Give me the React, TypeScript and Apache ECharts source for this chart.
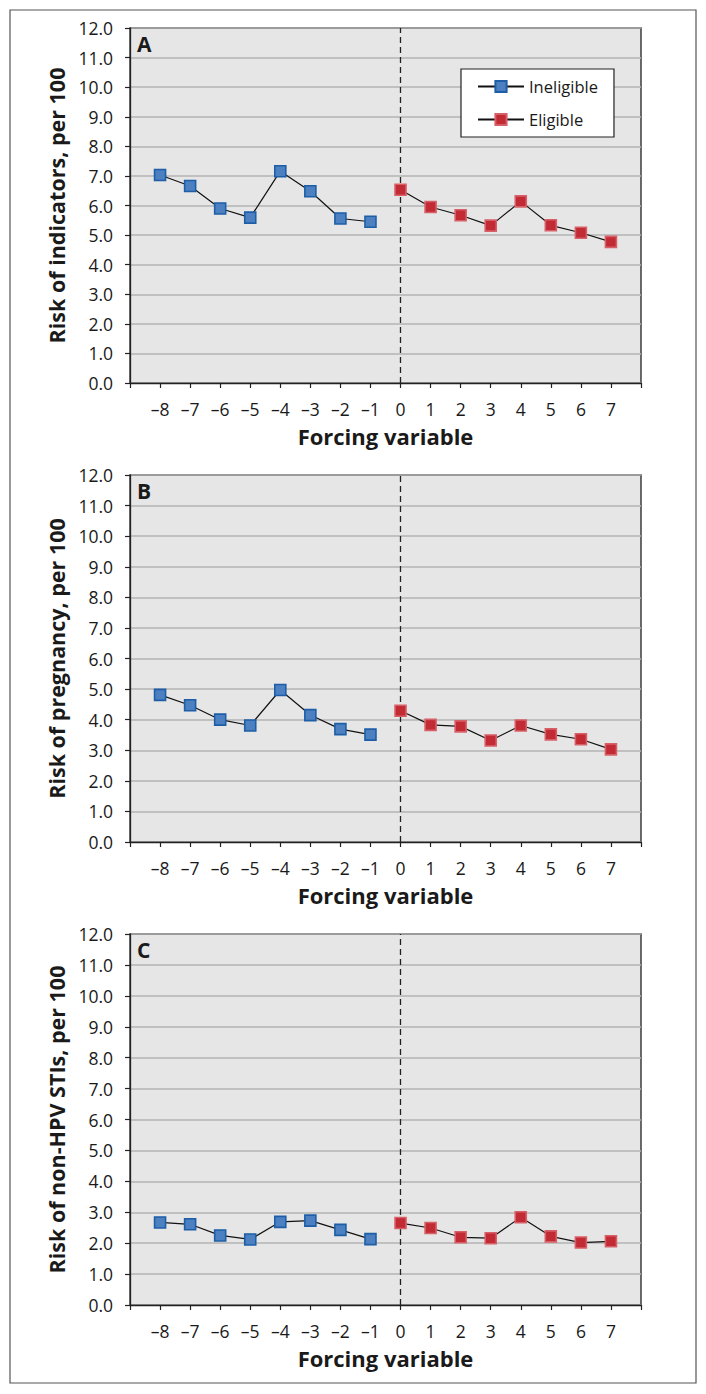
import React, { useEffect, useRef } from "react";
import * as echarts from "echarts";

// ---- data ----
const xIneligible = [-8, -7, -6, -5, -4, -3, -2, -1];
const xEligible = [0, 1, 2, 3, 4, 5, 6, 7];

const indicatorsIneligible = [7.03, 6.66, 5.9, 5.59, 7.16, 6.48, 5.56, 5.45];
const indicatorsEligible = [6.53, 5.95, 5.67, 5.32, 6.14, 5.33, 5.08, 4.77];

const pregnancyIneligible = [4.81, 4.47, 4.0, 3.81, 4.97, 4.15, 3.69, 3.51];
const pregnancyEligible = [4.29, 3.83, 3.78, 3.32, 3.81, 3.52, 3.36, 3.03];

const stiIneligible = [2.67, 2.61, 2.25, 2.12, 2.69, 2.73, 2.43, 2.13];
const stiEligible = [2.65, 2.49, 2.19, 2.16, 2.84, 2.22, 2.02, 2.06];

const panelLetters = ["A", "B", "C"];
const yTitles = [
  "Risk of indicators, per 100",
  "Risk of pregnancy, per 100",
  "Risk of non-HPV STIs, per 100",
];
const xTitle = "Forcing variable";
const seriesNames = ["Ineligible", "Eligible"];
const cutoff = 0;

const FONT = "'Open Sans', 'Noto Sans', sans-serif";

const panels = [
  { inel: indicatorsIneligible, elig: indicatorsEligible, top: 28, height: 355 },
  { inel: pregnancyIneligible, elig: pregnancyEligible, top: 475, height: 367 },
  { inel: stiIneligible, elig: stiEligible, top: 934, height: 371 },
];

const pairs = (xs: number[], ys: number[]) => xs.map((x, i) => [x, ys[i]]);

export default function App() {
  const ref = useRef<HTMLDivElement>(null);

  useEffect(() => {
    if (!ref.current) return;
    const chart = echarts.init(ref.current, undefined, { renderer: "svg" });

    const grids = panels.map((p) => ({
      left: 130,
      width: 511,
      top: p.top,
      height: p.height,
      show: true,
      backgroundColor: "#e6e6e6",
      borderColor: "#222",
      borderWidth: 1.3,
    }));

    const xAxes = panels.map((_, i) => ({
      type: "value",
      gridIndex: i,
      min: -9,
      max: 8,
      interval: 1,
      name: xTitle,
      nameLocation: "middle",
      nameGap: 42,
      nameTextStyle: { fontFamily: FONT, fontWeight: "bold", fontSize: 22, color: "#1a1a1a" },
      axisLine: { show: true, onZero: false, lineStyle: { color: "#222", width: 1.3 } },
      axisTick: { show: true, inside: false, length: 5, lineStyle: { color: "#222", width: 1.2 } },
      axisLabel: {
        margin: 17,
        fontFamily: FONT,
        fontSize: 17.5,
        color: "#1a1a1a",
        formatter: (v: number) =>
          v === -9 || v === 8 ? "" : v < 0 ? "\u2013" + Math.abs(v) : String(v),
      },
      splitLine: { show: false },
    }));

    const yAxes = panels.map((_, i) => ({
      type: "value",
      gridIndex: i,
      min: 0,
      max: 12,
      interval: 1,
      name: yTitles[i],
      nameLocation: "middle",
      nameRotate: 90,
      nameGap: 57,
      nameTextStyle: { fontFamily: FONT, fontWeight: "bold", fontSize: 21.5, color: "#1a1a1a" },
      axisLine: { show: true, onZero: false, lineStyle: { color: "#222", width: 1.3 } },
      axisTick: { show: true, inside: false, length: 5, lineStyle: { color: "#222", width: 1.2 } },
      axisLabel: {
        margin: 17,
        fontFamily: FONT,
        fontSize: 17.5,
        color: "#1a1a1a",
        formatter: (v: number) => v.toFixed(1),
      },
      splitLine: { show: true, lineStyle: { color: "#b3b3b3", width: 1.5 } },
    }));

    const series: any[] = [];
    panels.forEach((p, i) => {
      series.push({
        name: seriesNames[0],
        type: "line",
        xAxisIndex: i,
        yAxisIndex: i,
        data: pairs(xIneligible, p.inel),
        symbol: "rect",
        symbolSize: 11,
        lineStyle: { color: "#111", width: 1.2 },
        itemStyle: { color: "#4c80c1", borderColor: "#1d5ea6", borderWidth: 1.6 },
        z: 3,
      });
      series.push({
        name: seriesNames[1],
        type: "line",
        xAxisIndex: i,
        yAxisIndex: i,
        data: pairs(xEligible, p.elig),
        symbol: "rect",
        symbolSize: 11,
        lineStyle: { color: "#111", width: 1.2 },
        itemStyle: { color: "#c22a34", borderColor: "#d76068", borderWidth: 1.6 },
        z: 3,
        markLine: {
          silent: true,
          symbol: ["none", "none"],
          label: { show: false },
          lineStyle: { color: "#222", type: [6, 4], width: 1.3 },
          data: [{ xAxis: cutoff }],
          z: 2,
        },
      });
    });

    const graphics: any[] = [
      {
        type: "rect",
        shape: { x: 10, y: 10, width: 686, height: 1373 },
        style: { fill: "none", stroke: "#555", lineWidth: 1.2 },
        silent: true,
      },
      ...panels.map((p, i) => ({
        type: "text",
        x: 137,
        y: p.top + 16,
        style: {
          text: panelLetters[i],
          fontFamily: FONT,
          fontWeight: "bold",
          fontSize: 21,
          fill: "#1a1a1a",
          verticalAlign: "middle",
        },
        z: 10,
      })),
    ];

    chart.setOption({
      animation: false,
      backgroundColor: "#fff",
      grid: grids,
      xAxis: xAxes,
      yAxis: yAxes,
      series,
      legend: {
        data: seriesNames,
        orient: "vertical",
        left: 461,
        top: 69,
        padding: [9, 16, 9, 16],
        itemGap: 16,
        itemWidth: 46,
        itemHeight: 14,
        backgroundColor: "#fff",
        borderColor: "#222",
        borderWidth: 1.2,
        borderRadius: 0,
        textStyle: { fontFamily: FONT, fontSize: 16.5, color: "#1a1a1a", lineHeight: 16 },
        selectedMode: false,
      },
      graphic: graphics,
    });

    return () => chart.dispose();
  }, []);

  return (
    <div
      ref={ref}
      style={{ position: "absolute", left: 0, top: 0, width: 706, height: 1394 }}
    />
  );
}
